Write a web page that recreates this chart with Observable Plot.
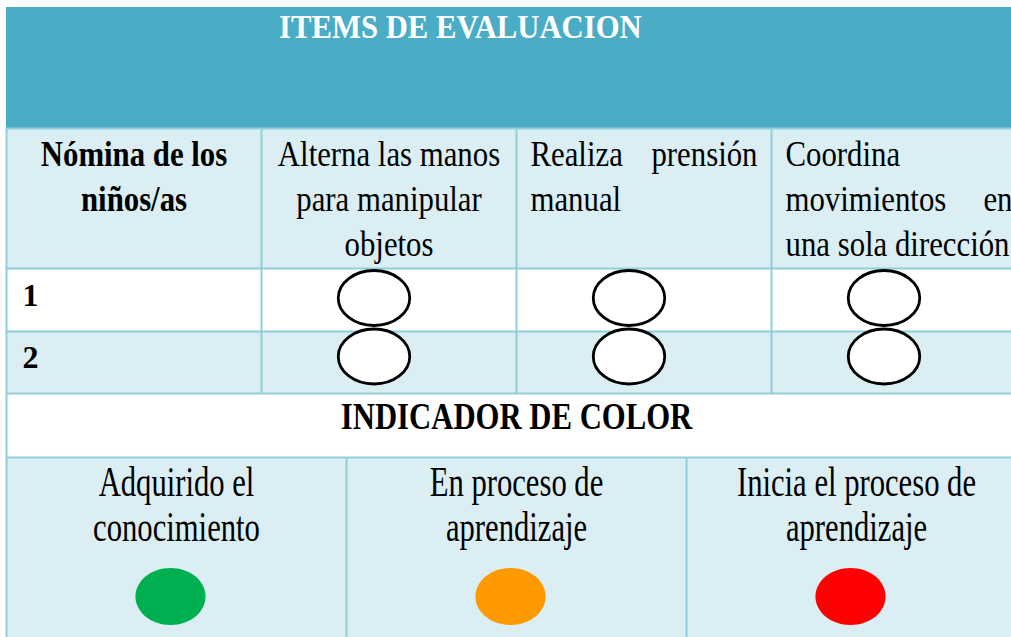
<!DOCTYPE html>
<html><head><meta charset="utf-8">
<script src="https://cdn.jsdelivr.net/npm/d3@7"></script>
<script src="https://cdn.jsdelivr.net/npm/@observablehq/plot@0.6"></script>
<style>html,body{margin:0;padding:0;background:#fff;} #chart svg{display:block;}</style>
</head><body><div id="chart"></div>
<script>
// ---- data ----
const title = "ITEMS DE EVALUACION";
const headerCells = [
  "Nómina de los\nniños/as",
  "Alterna las manos\npara manipular\nobjetos",
  "Realiza prensión\nmanual",
  "Coordina\nmovimientos en\nuna sola dirección"
];
const students = ["1", "2"];
const items = headerCells.slice(1);
const scores = [["", "", ""], ["", "", ""]]; // empty circles: not yet marked
const indicatorTitle = "INDICADOR DE COLOR";
const levels = ["Adquirido el\nconocimiento", "En proceso de\naprendizaje", "Inicia el proceso de\naprendizaje"];
const levelColors = ["#00B050", "#FF9900", "#FF0000"];

// ---- layout / style ----
const TEAL = "#4BACC6", LIGHT = "#DAEEF3", BORDER = "#92CDDC";
const SERIF = "'Liberation Serif', 'Times New Roman', serif";
const bands = {title: [7, 128], header: [128, 268], row0: [268, 331], row1: [331, 393], indicator: [393, 457], legend: [457, 640]};
const rowBand = r => bands["row" + r];

function ellipseSymbol(ratio) {
  return {
    draw(ctx, size) {
      const ry = Math.sqrt(size / Math.PI), rx = ry * ratio, k = 0.5522848;
      ctx.moveTo(rx, 0);
      ctx.bezierCurveTo(rx, ry * k, rx * k, ry, 0, ry);
      ctx.bezierCurveTo(-rx * k, ry, -rx, ry * k, -rx, 0);
      ctx.bezierCurveTo(-rx, -ry * k, -rx * k, -ry, 0, -ry);
      ctx.bezierCurveTo(rx * k, -ry, rx, -ry * k, rx, 0);
      ctx.closePath();
    }
  };
}

const bg = (band, fill) => Plot.rect([band], {x1: () => 0, x2: () => 4.2, y1: d => d[0], y2: d => d[1], fill});

// header lines
const lineGap = 45, headBase = 165;
const hdr = headerCells.flatMap((t, col) => t.split("\n").map((line, i, arr) => ({col, i, line, last: i === arr.length - 1})));
const centeredBold = hdr.filter(d => d.col === 0);
const centeredNorm = hdr.filter(d => d.col === 1);
const justified = hdr.filter(d => d.col >= 2);
const leftParts = justified.map(d => ({...d, text: (d.last || !d.line.includes(" ")) ? d.line : d.line.slice(0, d.line.lastIndexOf(" "))}));
const rightParts = justified.filter(d => !d.last && d.line.includes(" ")).map(d => ({...d, text: d.line.slice(d.line.lastIndexOf(" ") + 1)}));

const evals = students.flatMap((s, r) => items.map((it, c) => ({s, it, r, c, v: scores[r][c]})));
const legendLines = levels.flatMap((t, k) => t.split("\n").map((line, i) => ({k, i, line})));

const hLines = [bands.header[0], bands.row0[0], bands.row1[0], bands.indicator[0], bands.legend[0]];
const vLines = [
  {x: 0, y1: bands.header[0], y2: 640},
  {x: 1, y1: bands.header[0], y2: bands.indicator[0]},
  {x: 2, y1: bands.header[0], y2: bands.indicator[0]},
  {x: 3, y1: bands.header[0], y2: bands.indicator[0]},
  {x: 4 / 3, y1: bands.legend[0], y2: 640},
  {x: 8 / 3, y1: bands.legend[0], y2: 640}
];

const txt = {fontFamily: SERIF, fill: "black", lineAnchor: "bottom"};

const chart = Plot.plot({
  width: 1011,
  height: 637,
  margin: 0,
  x: {type: "linear", domain: [0, 4], range: [6, 1026], axis: null},
  y: {type: "linear", domain: [0, 637], range: [0, 637], axis: null},
  color: {domain: levels, range: levelColors},
  style: {background: "white"},
  marks: [
    bg(bands.title, TEAL),
    bg(bands.header, LIGHT),
    bg(bands.row0, "white"),
    bg(bands.row1, LIGHT),
    bg(bands.indicator, "white"),
    bg(bands.legend, LIGHT),
    Plot.ruleY(hLines, {y: d => d, x1: () => 0, x2: () => 4.2, stroke: BORDER, strokeWidth: 2}),
    Plot.ruleX(vLines, {x: "x", y1: "y1", y2: "y2", stroke: BORDER, strokeWidth: 2}),
    // title
    Plot.text([title], {...txt, x: () => 1.78, y: () => 37, text: d => d, fill: "white", fontWeight: "bold", fontSize: 33}),
    // header
    Plot.text(centeredBold, {...txt, x: d => d.col + 0.5, y: d => headBase + d.i * lineGap, text: "line", fontWeight: "bold", fontSize: 35}),
    Plot.text(centeredNorm, {...txt, x: d => d.col + 0.5, y: d => headBase + d.i * lineGap, text: "line", fontSize: 35}),
    Plot.text(leftParts, {...txt, x: d => d.col, dx: 14, y: d => headBase + d.i * lineGap, text: "text", textAnchor: "start", fontSize: 35}),
    Plot.text(rightParts, {...txt, x: d => d.col + 1, dx: -14, y: d => headBase + d.i * lineGap, text: "text", textAnchor: "end", fontSize: 35}),
    // student numbers
    Plot.text(students, {...txt, x: () => 0, dx: 16, y: (d, i) => rowBand(i)[1] - 26, text: d => d, textAnchor: "start", fontWeight: "bold", fontSize: 32}),
    // evaluation circles (touching vertically as in the original)
    Plot.dot(evals, {x: d => d.c + 1.5, dx: -15, y: d => (rowBand(d.r)[0] + rowBand(d.r)[1]) / 2 - (d.r ? 6 : 2), r: 27.5, symbol: ellipseSymbol(1.3), fill: "white", stroke: "black", strokeWidth: 2.8}),
    // indicator
    Plot.text([indicatorTitle], {...txt, x: () => 2, y: () => 428, text: d => d, fontWeight: "bold", fontSize: 37}),
    // legend
    Plot.text(legendLines, {...txt, x: d => d.k * 4 / 3 + 2 / 3, y: d => 495 + d.i * 45, text: "line", fontSize: 42}),
    Plot.dot(levels, {x: (d, k) => k * 4 / 3 + 2 / 3, dx: -6, y: () => 596, r: 28.5, symbol: ellipseSymbol(1.23), fill: d => d, stroke: "none"})
  ]
});

// horizontally condensed serif as in the original document (keyed by font size)
const squeeze = {"33": 0.93, "35": 0.88, "37": 0.83, "42": 0.73};
chart.querySelectorAll("text").forEach(t => {
  const g = t.closest("[font-size]");
  const s = g ? squeeze[String(parseFloat(g.getAttribute("font-size")))] : undefined;
  if (!s) return;
  let tr = t.getAttribute("transform");
  if (!tr) {
    const x = t.getAttribute("x") || 0, y = t.getAttribute("y") || 0;
    const yIsEm = String(y).endsWith("em");
    tr = `translate(${x},${yIsEm ? 0 : y})`;
    t.removeAttribute("x");
    if (!yIsEm) t.removeAttribute("y");
  }
  t.setAttribute("transform", tr + ` scale(${s},1)`);
});
document.getElementById("chart").appendChild(chart);
</script>
</body></html>
